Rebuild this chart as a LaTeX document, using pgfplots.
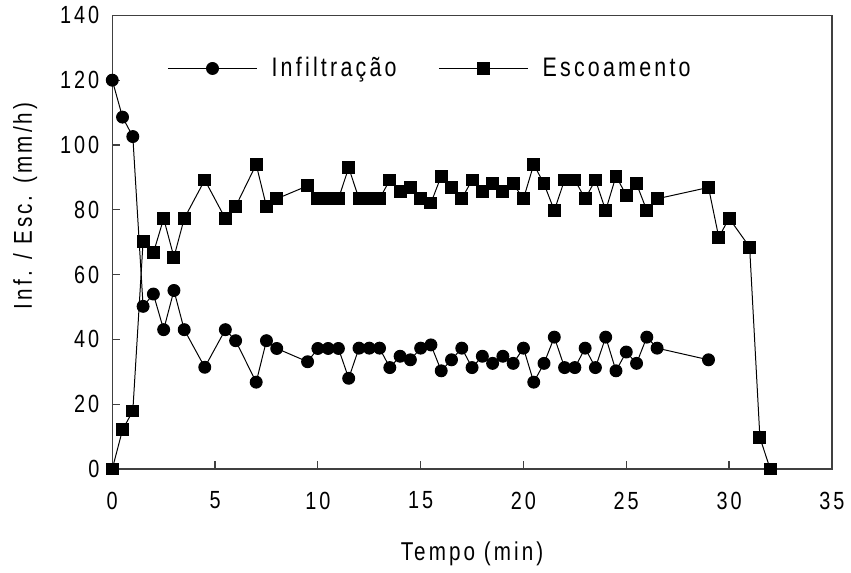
\documentclass[border=0pt]{standalone}
\usepackage{fontspec}
\setmainfont{Liberation Sans}[FakeStretch=0.8, LetterSpace=12]
\usepackage{pgfplots}
\pgfplotsset{compat=1.18}

\begin{document}
\begin{tikzpicture}[font=\fontsize{13}{15}\selectfont]
\begin{axis}[
  scale only axis, width=362.5pt, height=228.5pt,
  xmin=0, xmax=35, ymin=0, ymax=140,
  xtick={0,5,...,35}, ytick={0,20,...,140},
  tick align=inside, xtick pos=bottom, ytick pos=left,
  major tick length=4pt,
  axis line style={black!75, line width=0.7pt},
  tick style={black!75, line width=0.6pt},
  /pgf/number format/assume math mode=true,
  tick label style={font=\fontsize{12.5}{15}\selectfont},
  xticklabel style={yshift=-8pt},
  yticklabel style={xshift=-3pt},
  xlabel={Tempo (min)},
  xlabel style={at={(axis description cs:0.5,-0.187)}, anchor=center},
  ylabel={Inf. / Esc. (mm/h)},
  ylabel style={at={(axis description cs:-0.121,0.58)}, anchor=center},
  clip=false,
  legend columns=2,
  legend style={draw=none, fill=none, at={(axis description cs:0.076,0.883)},
    anchor=west, inner sep=0pt,
    font=\fontsize{13.5}{15}\selectfont,
    nodes={inner xsep=7pt},
    /tikz/every even column/.append style={column sep=14pt}},
  legend image code/.code={
    \draw[mark repeat=2, mark phase=2] plot coordinates {(0pt,0pt) (22.5pt,0pt) (45pt,0pt)};},
  legend cell align=left,
]
\addplot[black, line width=0.5pt, mark=*, mark size=3pt] coordinates {
(0,120) (0.5,108.6) (1,102.6) (1.5,50.2) (2,54) (2.5,43) (3,55.1) (3.5,43)
(4.5,31.4) (5.5,43) (6,39.6) (7,26.8) (7.5,39.6) (8,37.2) (9.5,33.1) (10,37.2)
(10.5,37.2) (11,37.2) (11.5,28) (12,37.3) (12.5,37.3) (13,37.3) (13.5,31.3)
(14,34.8) (14.5,33.7) (15,37.3) (15.5,38.3) (16,30.3) (16.5,33.7) (17,37.3)
(17.5,31.3) (18,34.8) (18.5,32.6) (19,34.8) (19.5,32.6) (20,37.3) (20.5,26.8)
(21,32.6) (21.5,40.7) (22,31.3) (22.5,31.3) (23,37.3) (23.5,31.3) (24,40.7)
(24.5,30.3) (25,36.1) (25.5,32.6) (26,40.7) (26.5,37.3) (29,33.7)
};
\addlegendentry{Infiltração}
\addplot[black, line width=0.5pt, mark=square*, mark size=3pt] coordinates {
(0,0) (0.5,12.1) (1,17.9) (1.5,70.3) (2,66.7) (2.5,77.3) (3,65.4) (3.5,77.3)
(4.5,89.2) (5.5,77.3) (6,81) (7,94) (7.5,81) (8,83.4) (9.5,87.4) (10,83.4)
(10.5,83.4) (11,83.4) (11.5,93) (12,83.4) (12.5,83.4) (13,83.4) (13.5,89.2)
(14,85.7) (14.5,87) (15,83.4) (15.5,82.1) (16,90.4) (16.5,87) (17,83.4)
(17.5,89.2) (18,85.7) (18.5,88) (19,85.7) (19.5,88) (20,83.4) (20.5,94)
(21,88) (21.5,79.8) (22,89.2) (22.5,89.2) (23,83.4) (23.5,89.2) (24,79.8)
(24.5,90.4) (25,84.5) (25.5,88) (26,79.8) (26.5,83.4) (29,86.9) (29.5,71.5)
(30,77.4) (31,68.5) (31.5,9.7) (32,0)
};
\addlegendentry{Escoamento}
\path (axis description cs:-0.156,0.5);
\end{axis}
\end{tikzpicture}
\end{document}
